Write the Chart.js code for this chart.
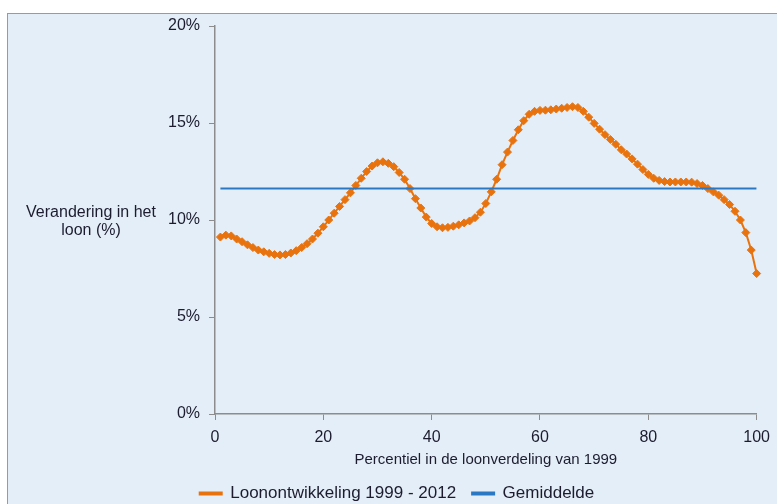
<!DOCTYPE html>
<html>
<head>
<meta charset="utf-8">
<script src="https://cdn.jsdelivr.net/npm/chart.js@4"></script>
<style>
  html, body { margin: 0; padding: 0; background: #fff; overflow: hidden; }
  #wrap {
    position: absolute; left: 7px; top: 13px;
    width: 770px; height: 498px;
    background: #e4eef8;
    border-top: 1px solid #9a9a9a; border-left: 1px solid #9a9a9a;
  }
</style>
</head>
<body>
<div id="wrap"><canvas id="loonChart"></canvas></div>
<script>
// percentielen 1..100 en loonontwikkeling 1999-2012 (%)
const percentiles = [
  1, 2, 3, 4, 5, 6, 7, 8, 9, 10, 11, 12, 13, 14, 15, 16, 17, 18, 19, 20,
  21, 22, 23, 24, 25, 26, 27, 28, 29, 30, 31, 32, 33, 34, 35, 36, 37, 38, 39, 40,
  41, 42, 43, 44, 45, 46, 47, 48, 49, 50, 51, 52, 53, 54, 55, 56, 57, 58, 59, 60,
  61, 62, 63, 64, 65, 66, 67, 68, 69, 70, 71, 72, 73, 74, 75, 76, 77, 78, 79, 80,
  81, 82, 83, 84, 85, 86, 87, 88, 89, 90, 91, 92, 93, 94, 95, 96, 97, 98, 99, 100
];
const loonontwikkeling = [
  9.12, 9.22, 9.18, 9.02, 8.88, 8.72, 8.58, 8.45, 8.36, 8.28,
  8.22, 8.20, 8.22, 8.30, 8.42, 8.58, 8.78, 9.02, 9.32, 9.65,
  10.00, 10.35, 10.70, 11.05, 11.40, 11.78, 12.15, 12.50, 12.78, 12.95,
  13.00, 12.92, 12.75, 12.45, 12.10, 11.62, 11.10, 10.62, 10.15, 9.82,
  9.65, 9.60, 9.62, 9.68, 9.75, 9.85, 9.95, 10.12, 10.40, 10.85,
  11.45, 12.10, 12.85, 13.50, 14.10, 14.65, 15.12, 15.45, 15.60, 15.65,
  15.66, 15.68, 15.72, 15.76, 15.80, 15.84, 15.80, 15.60, 15.30, 14.98,
  14.68, 14.40, 14.15, 13.90, 13.62, 13.40, 13.15, 12.88, 12.60, 12.35,
  12.15, 12.04, 11.98, 11.96, 11.96, 11.96, 11.96, 11.95, 11.88, 11.78,
  11.62, 11.45, 11.28, 11.05, 10.80, 10.45, 10.00, 9.35, 8.45, 7.24
];
const gemiddelde = 11.62;
const xTicks = [0, 20, 40, 60, 80, 100];
const yTicks = [0, 5, 10, 15, 20];

const seriesPoints = percentiles.map((p, i) => ({ x: p, y: loonontwikkeling[i] }));
const meanPoints = [
  { x: percentiles[0], y: gemiddelde },
  { x: percentiles[percentiles.length - 1], y: gemiddelde }
];

Chart.defaults.font.family = '"Liberation Sans", Arial, sans-serif';
Chart.defaults.font.size = 16;
Chart.defaults.color = '#1c1c2e';

// horizontale y-as titel links van de as
const yTitlePlugin = {
  id: 'yTitle',
  afterDraw(chart) {
    const ctx = chart.ctx;
    ctx.save();
    ctx.font = '16px "Liberation Sans", Arial, sans-serif';
    ctx.fillStyle = '#1c1c2e';
    ctx.textAlign = 'center';
    ctx.textBaseline = 'middle';
    ctx.fillText('Verandering in het', 83, 199);
    ctx.fillText('loon (%)', 83, 217);
    ctx.restore();
  }
};

const ctx = document.getElementById('loonChart').getContext('2d');
const loonChart = new Chart(ctx, {
  type: 'scatter',
  data: {
    datasets: [{
      label: 'Loonontwikkeling 1999 - 2012',
      data: seriesPoints,
      showLine: true,
      clip: false,
      borderColor: '#e8730e',
      backgroundColor: '#e8730e',
      borderWidth: 2,
      pointStyle: 'rectRot',
      pointRadius: 4,
      pointBorderWidth: 1,
      order: 1
    }, {
      label: 'Gemiddelde',
      data: meanPoints,
      showLine: true,
      borderColor: '#2a78c4',
      backgroundColor: '#2a78c4',
      borderWidth: 2,
      pointRadius: 0,
      order: 0
    }]
  },
  options: {
    responsive: true,
    maintainAspectRatio: false,
    animation: false,
    layout: { padding: { top: 12, right: 20, left: 28, bottom: 0 } },
    scales: {
      x: {
        type: 'linear',
        min: 0,
        max: 100,
        afterFit: s => { s.height = 55; },
        afterBuildTicks: s => { s.ticks = xTicks.map(v => ({ value: v })); },
        grid: { drawOnChartArea: false, drawTicks: true, tickLength: 6, color: '#8c8c8c' },
        border: { color: '#8c8c8c', width: 1.5 },
        ticks: { padding: 8 },
        title: {
          display: true,
          text: 'Percentiel in de loonverdeling van 1999',
          font: { size: 15 },
          padding: { top: 0, bottom: 0 }
        }
      },
      y: {
        min: 0,
        max: 20,
        afterFit: s => { s.width = 179; s.paddingTop = 0; },
        afterBuildTicks: s => { s.ticks = yTicks.map(v => ({ value: v })); },
        grid: { drawOnChartArea: false, drawTicks: true, tickLength: 6, color: '#8c8c8c' },
        border: { color: '#8c8c8c', width: 1.5 },
        ticks: { padding: 9, callback: v => v + '%' }
      }
    },
    plugins: {
      legend: {
        position: 'bottom',
        labels: {
          padding: 16,
          boxWidth: 22,
          boxHeight: 2,
          font: { size: 17 },
          sort: (a, b) => a.datasetIndex - b.datasetIndex
        }
      },
      tooltip: { enabled: false }
    }
  },
  plugins: [yTitlePlugin]
});
</script>
</body>
</html>
